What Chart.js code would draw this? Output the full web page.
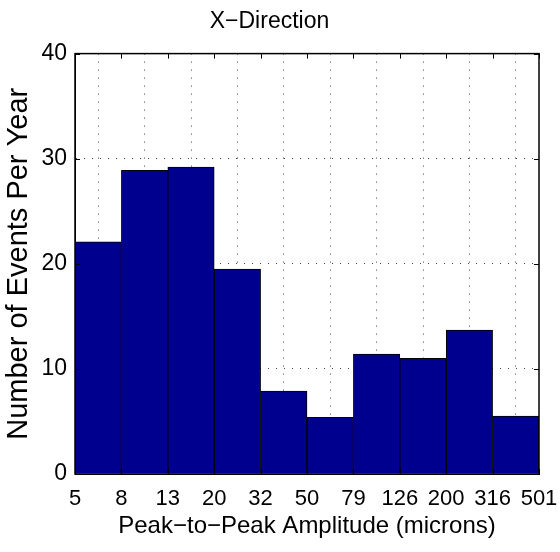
<!DOCTYPE html>
<html>
<head>
<meta charset="utf-8">
<script src="https://cdn.jsdelivr.net/npm/chart.js@4/dist/chart.umd.min.js"></script>
<style>
  html, body { margin: 0; padding: 0; background: #fff; }
  #wrap { width: 560px; height: 552px; }
</style>
</head>
<body>
<div id="wrap"><canvas id="chart-hist"></canvas></div>
<script>
// bin edges (tick labels under the bar edges)
const binEdges = ['5', '8', '13', '20', '32', '50', '79', '126', '200', '316', '501'];
// events per year in each bin
const eventCounts = [22.1, 28.9, 29.2, 19.5, 7.9, 5.4, 11.4, 11.0, 13.7, 5.5];
const yTicks = [0, 10, 20, 30, 40];

const FONT = 'Liberation Sans, Arial, Helvetica, sans-serif';
const BAR_COLOR = 'rgb(0, 0, 143)';

// caja completa + marcas hacia dentro (estilo MATLAB)
const boxPlugin = {
    id: 'box',
    afterDraw(chart) {
        const { ctx, chartArea: a, scales } = chart;
        ctx.save();
        ctx.strokeStyle = '#000';
        ctx.lineWidth = 1;
        const t = 5;
        ctx.beginPath();
        scales.x.ticks.forEach(tk => {
            const px = Math.round(scales.x.getPixelForValue(tk.value)) + 0.5;
            ctx.moveTo(px, a.bottom); ctx.lineTo(px, a.bottom - t);
            ctx.moveTo(px, a.top); ctx.lineTo(px, a.top + t);
        });
        scales.y.ticks.forEach(tk => {
            const py = Math.round(scales.y.getPixelForValue(tk.value)) + 0.5;
            ctx.moveTo(a.left, py); ctx.lineTo(a.left + t, py);
            ctx.moveTo(a.right, py); ctx.lineTo(a.right - t, py);
        });
        ctx.stroke();
        ctx.lineWidth = 1.5;
        ctx.strokeRect(a.left, a.top, a.right - a.left, a.bottom - a.top);
        ctx.restore();
    }
};

new Chart(document.getElementById('chart-hist'), {
    type: 'bar',
    data: {
        datasets: [{
            data: eventCounts.map((v, i) => ({ x: i + 0.5, y: v })),
            backgroundColor: BAR_COLOR,
            borderColor: '#000',
            borderWidth: 1,
            barPercentage: 1,
            categoryPercentage: 1,
            grouped: false
        }]
    },
    options: {
        animation: false,
        responsive: true,
        maintainAspectRatio: false,
        layout: { padding: { left: 0, right: 21, top: 0, bottom: 0 } },
        plugins: {
            legend: { display: false },
            tooltip: { enabled: false },
            title: {
                display: true,
                text: 'X\u2212Direction',
                color: '#000',
                font: { family: FONT, size: 23, weight: 'normal' },
                padding: { top: 8, bottom: 18 }
            }
        },
        scales: {
            x: {
                type: 'linear',
                offset: false,
                min: 0,
                max: binEdges.length - 1,
                afterFit: s => { s.height = 78; s.paddingLeft = 0; s.paddingRight = 0; },
                border: { display: true, color: '#000', dash: [1, 7] },
                grid: { color: '#444', drawTicks: false },
                ticks: {
                    stepSize: 1,
                    autoSkip: false,
                    maxRotation: 0,
                    padding: 12,
                    color: '#000',
                    font: { family: FONT, size: 22 },
                    callback: v => binEdges[v]
                },
                title: {
                    display: true,
                    text: 'Peak\u2212to\u2212Peak Amplitude (microns)',
                    color: '#000',
                    font: { family: FONT, size: 24 },
                    padding: { top: 0, bottom: 11 }
                }
            },
            y: {
                min: yTicks[0],
                max: yTicks[yTicks.length - 1],
                afterFit: s => { s.width = 75; s.paddingTop = 0; s.paddingBottom = 0; },
                afterBuildTicks: s => { s.ticks = yTicks.map(v => ({ value: v })); },
                border: { display: true, color: '#000', dash: [1, 7] },
                grid: { color: '#444', drawTicks: false },
                ticks: {
                    padding: 8,
                    color: '#000',
                    font: { family: FONT, size: 23 }
                },
                title: {
                    display: true,
                    text: 'Number of Events Per Year',
                    color: '#000',
                    font: { family: FONT, size: 29 },
                    padding: { top: 2, bottom: 0 }
                }
            }
        }
    },
    plugins: [boxPlugin]
});
</script>
</body>
</html>
